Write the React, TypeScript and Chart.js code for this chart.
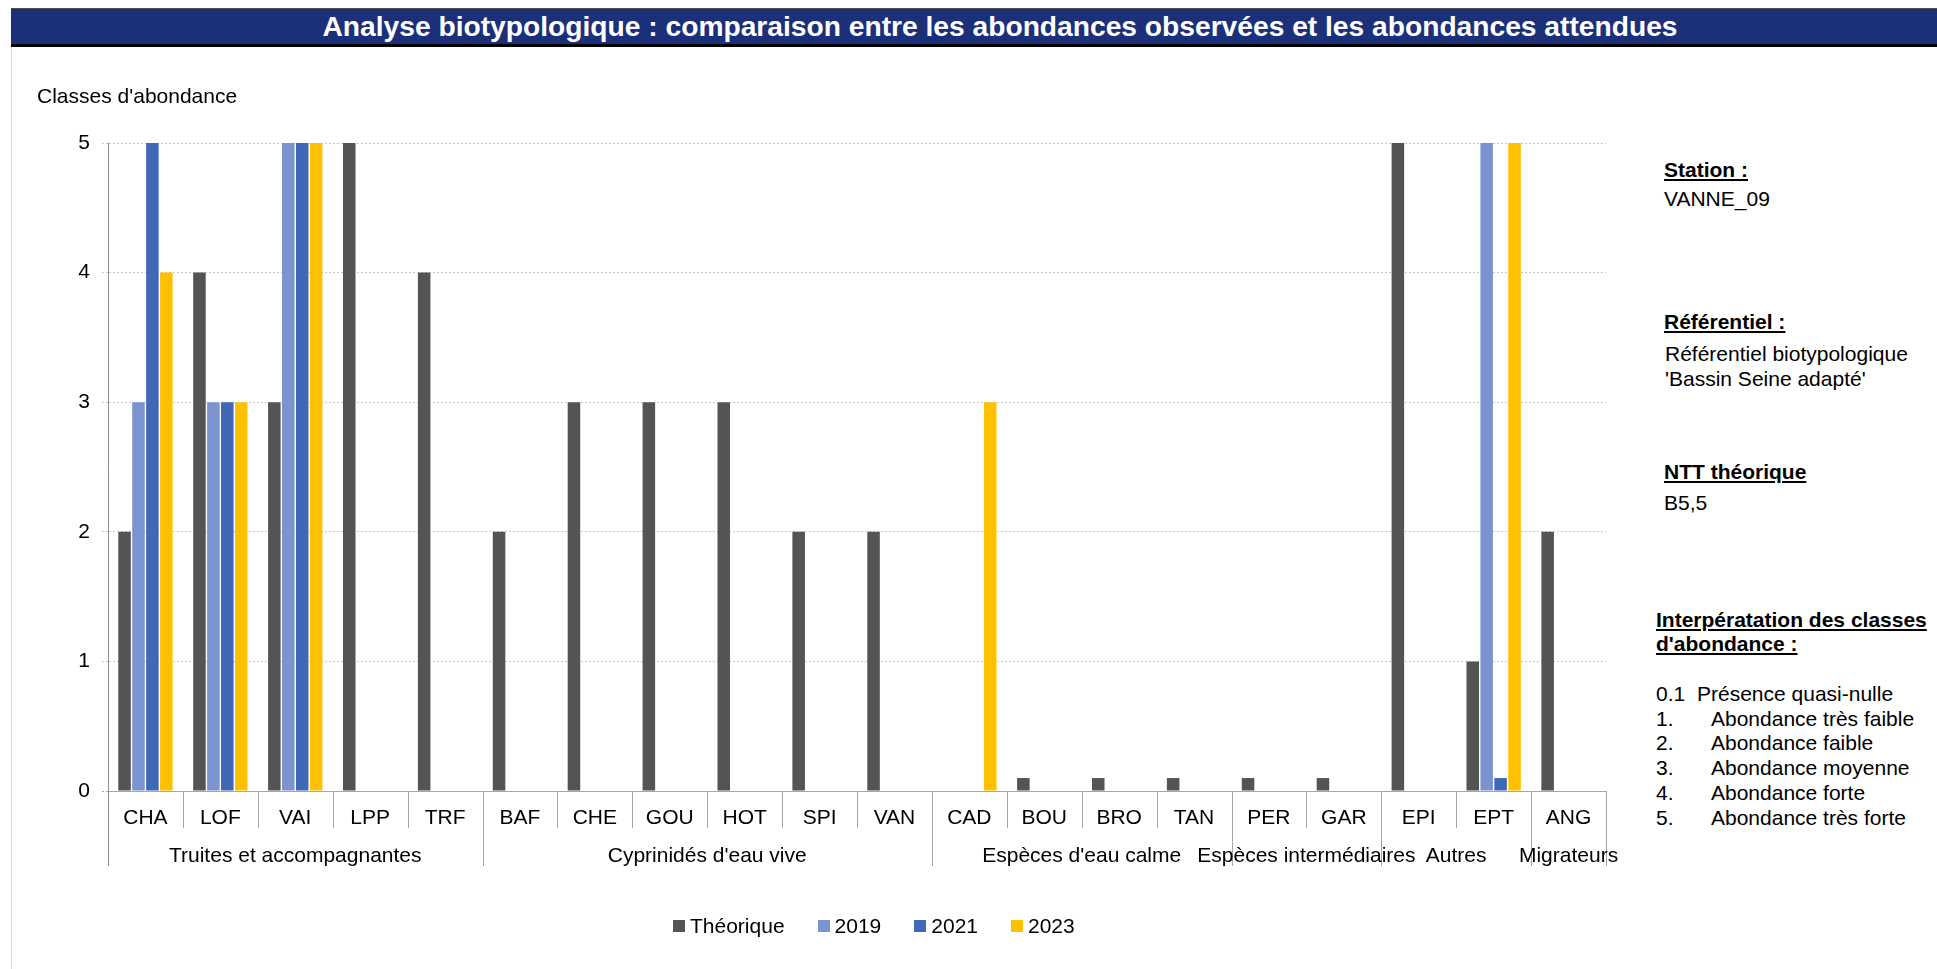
import React, { useEffect, useRef } from "react";
import { Chart, registerables } from "chart.js";

Chart.register(...registerables);

const FONT = "'Liberation Sans', Arial, sans-serif";

const categories = ["CHA", "LOF", "VAI", "LPP", "TRF", "BAF", "CHE", "GOU", "HOT", "SPI", "VAN", "CAD", "BOU", "BRO", "TAN", "PER", "GAR", "EPI", "EPT", "ANG"];
const theorique = [2, 4, 3, 5, 4, 2, 3, 3, 3, 2, 2, null, 0.1, 0.1, 0.1, 0.1, 0.1, 5, 1, 2];
const obs2019 = [3, 3, 5, null, null, null, null, null, null, null, null, null, null, null, null, null, null, null, 5, null];
const obs2021 = [5, 3, 5, null, null, null, null, null, null, null, null, null, null, null, null, null, null, null, 0.1, null];
const obs2023 = [4, 3, 5, null, null, null, null, null, null, null, null, 3, null, null, null, null, null, null, 5, null];
const groupLabels = ["Truites et accompagnantes", "Cyprinidés d'eau vive", "Espèces d'eau calme", "Espèces intermédiaires", "Autres", "Migrateurs"];
const groupSizes = [5, 6, 4, 2, 2, 1];
const yMin = 0;
const yMax = 5;
const yStep = 1;

const seriesLabels = ["Théorique", "2019", "2021", "2023"];
const seriesColors = ["#545454", "#7b93cf", "#3f69b6", "#ffc000"];

const legendNames = [
  ["0.1", "Présence quasi-nulle"],
  ["1.", "Abondance très faible"],
  ["2.", "Abondance faible"],
  ["3.", "Abondance moyenne"],
  ["4.", "Abondance forte"],
  ["5.", "Abondance très forte"],
];

const groupPlugin = {
  id: "groupAxis",
  afterDraw(chart: any) {
    const { ctx, chartArea } = chart;
    const xs = chart.scales.x;
    const n = categories.length;
    const w = (xs.right - xs.left) / n;
    const y0 = chartArea.bottom;
    const bounds = new Set<number>();
    let acc = 0;
    bounds.add(0);
    groupSizes.forEach((s) => {
      acc += s;
      bounds.add(acc);
    });
    ctx.save();
    ctx.lineWidth = 1;
    for (let i = 0; i <= n; i++) {
      const x = Math.round(xs.left + i * w) + 0.5;
      const isLong = bounds.has(i);
      ctx.strokeStyle = i === 0 ? "#8c8c8c" : "#a6a6a6";
      ctx.beginPath();
      ctx.moveTo(x, y0);
      ctx.lineTo(x, y0 + (isLong ? 75 : 37));
      ctx.stroke();
    }
    ctx.fillStyle = "#000";
    ctx.font = `21px ${FONT}`;
    ctx.textAlign = "center";
    ctx.textBaseline = "middle";
    let start = 0;
    groupSizes.forEach((s, gi) => {
      const cx = xs.left + (start + s / 2) * w;
      ctx.fillText(groupLabels[gi], cx, y0 + 65);
      start += s;
    });
    ctx.restore();
  },
};

function BarChart() {
  const ref = useRef<HTMLCanvasElement | null>(null);
  useEffect(() => {
    if (!ref.current) return;
    const seriesData = [theorique, obs2019, obs2021, obs2023];
    const chart = new Chart(ref.current, {
      type: "bar",
      data: {
        labels: categories,
        datasets: seriesData.map((d, i) => ({
          label: seriesLabels[i],
          data: d,
          backgroundColor: seriesColors[i],
          borderWidth: 0,
          categoryPercentage: 0.744,
          barPercentage: 0.9,
        })),
      },
      options: {
        responsive: false,
        animation: false,
        devicePixelRatio: 1,
        layout: { padding: { left: 0, top: 143, right: 34, bottom: 98 } },
        plugins: {
          legend: { display: false },
          tooltip: { enabled: false },
          title: { display: false },
        },
        scales: {
          x: {
            type: "category",
            grid: { display: false, drawTicks: false },
            border: { display: true, color: "#a6a6a6", width: 1 },
            ticks: {
              font: { family: FONT, size: 21 },
              color: "#000",
              padding: 15,
              maxRotation: 0,
              autoSkip: false,
            },
            afterFit: (scale: any) => {
              scale.height = 80;
            },
          },
          y: {
            min: yMin,
            max: yMax,
            ticks: {
              stepSize: yStep,
              font: { family: FONT, size: 21 },
              color: "#000",
              padding: 12,
            },
            grid: {
              color: (c: any) => (c.tick && c.tick.value === 0 ? "#a6a6a6" : "#c8c8c8"),
              lineWidth: 1,
              tickLength: 6,
              tickBorderDash: [2, 2],
            },
            border: { display: true, color: "#8c8c8c", width: 1, dash: [2, 2] },
            afterFit: (scale: any) => {
              scale.width = 108;
            },
          },
        },
      },
      plugins: [groupPlugin],
    });
    return () => chart.destroy();
  }, []);
  return (
    <canvas
      ref={ref}
      width={1640}
      height={969}
      style={{ position: "absolute", left: 0, top: 0, width: 1640, height: 969 }}
    />
  );
}

const textBase: React.CSSProperties = {
  position: "absolute",
  fontFamily: FONT,
  fontSize: 21,
  lineHeight: "24px",
  color: "#000",
  whiteSpace: "nowrap",
};

function Line({ x, y, bold, children }: { x: number; y: number; bold?: boolean; children: React.ReactNode }) {
  return (
    <div
      style={{
        ...textBase,
        left: x,
        top: y - 12,
        fontWeight: bold ? "bold" : "normal",
        textDecoration: bold ? "underline" : "none",
      }}
    >
      {children}
    </div>
  );
}

export default function App() {
  return (
    <div
      style={{
        position: "absolute",
        left: 0,
        top: 0,
        width: 1937,
        height: 969,
        overflow: "hidden",
        background: "#fff",
      }}
    >
      <div
        style={{
          position: "absolute",
          left: 11,
          top: 46,
          width: 1,
          height: 923,
          background: "#d9d9d9",
        }}
      />
      <BarChart />
      <div
        style={{
          position: "absolute",
          left: 11,
          top: 8,
          width: 1926,
          height: 35,
          boxSizing: "content-box",
          borderTop: "1px solid #4d4d4d",
          borderBottom: "3px solid #000",
          background: "#1c307a",
          overflow: "hidden",
        }}
      >
        <div
          style={{
            position: "absolute",
            left: 0,
            top: 0,
            width: 1978,
            textAlign: "center",
            color: "#fff",
            fontFamily: FONT,
            fontWeight: "bold",
            fontSize: 28.2,
            lineHeight: "35px",
            whiteSpace: "nowrap",
          }}
        >
          Analyse biotypologique : comparaison entre les abondances observées et les abondances attendues
        </div>
      </div>
      <div style={{ ...textBase, left: 37, top: 84 }}>Classes d'abondance</div>

      <Line x={1664} y={170} bold>Station :</Line>
      <Line x={1664} y={199}>VANNE_09</Line>
      <Line x={1664} y={322} bold>Référentiel :</Line>
      <Line x={1665} y={354}>Référentiel biotypologique</Line>
      <Line x={1665} y={379}>'Bassin Seine adapté'</Line>
      <Line x={1664} y={472} bold>NTT théorique</Line>
      <Line x={1664} y={503}>B5,5</Line>
      <Line x={1656} y={620} bold>Interpératation des classes</Line>
      <Line x={1656} y={644} bold>d'abondance :</Line>
      {legendNames.map(([num, txt], i) => (
        <React.Fragment key={num}>
          <Line x={1656} y={694 + i * 24.7}>{num}</Line>
          <Line x={i === 0 ? 1697 : 1711} y={694 + i * 24.7}>{txt}</Line>
        </React.Fragment>
      ))}

      <div
        style={{
          position: "absolute",
          left: 673,
          top: 913,
          display: "flex",
          alignItems: "center",
          fontFamily: FONT,
          fontSize: 21,
          lineHeight: "26px",
          whiteSpace: "nowrap",
        }}
      >
        {seriesLabels.map((l, i) => (
          <div key={l} style={{ display: "flex", alignItems: "center", marginRight: i < 3 ? 33 : 0 }}>
            <div style={{ width: 12, height: 12, background: seriesColors[i], marginRight: 5 }} />
            <span>{l}</span>
          </div>
        ))}
      </div>
    </div>
  );
}
